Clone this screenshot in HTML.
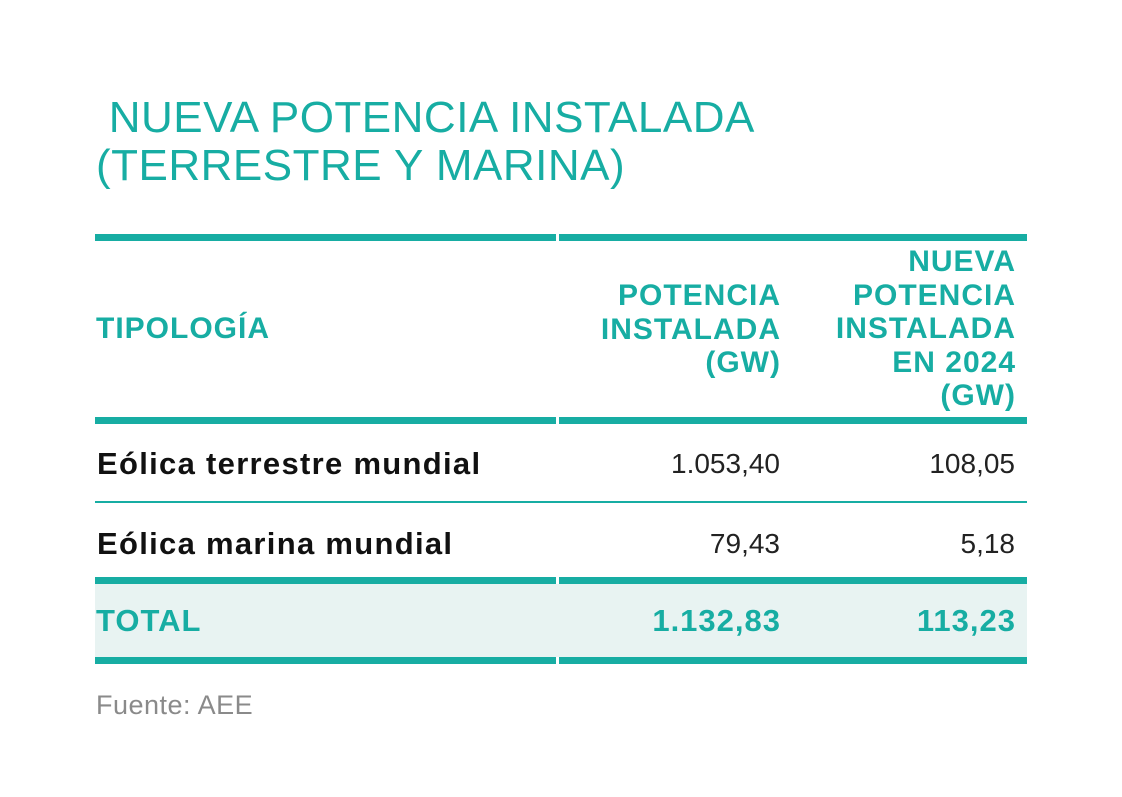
<!DOCTYPE html>
<html><head><meta charset="utf-8">
<style>
html,body{margin:0;padding:0;background:#fff;}
body{width:1122px;height:797px;position:relative;overflow:hidden;font-family:"Liberation Sans",sans-serif;}
.abs{position:absolute;}
.title{left:96px;top:94px;color:#17ada3;font-size:44px;line-height:48px;letter-spacing:0.5px;}
.bar{position:absolute;height:7px;background:#17ada3;}
.thin{position:absolute;height:2px;background:#17ada3;}
.h{color:#17ada3;font-weight:bold;font-size:30px;line-height:33.5px;letter-spacing:1px;}
.r{text-align:right;}
.lbl{font-weight:bold;font-size:31px;color:#111;letter-spacing:1.3px;}
.num{font-size:28px;color:#222;}
.tot{color:#17ada3;font-weight:bold;font-size:31px;letter-spacing:1px;}
</style></head><body>
<div class="abs title">&nbsp;NUEVA POTENCIA INSTALADA<br>(TERRESTRE Y MARINA)</div>

<div class="bar" style="left:95px;width:461px;top:234px"></div>
<div class="bar" style="left:559px;width:468px;top:234px"></div>

<div class="abs h" style="left:96px;top:312px">TIPOLOGÍA</div>
<div class="abs h r" style="left:560px;width:221px;top:279px">POTENCIA<br>INSTALADA<br>(GW)</div>
<div class="abs h r" style="left:800px;width:216px;top:245px">NUEVA<br>POTENCIA<br>INSTALADA<br>EN 2024<br>(GW)</div>

<div class="bar" style="left:95px;width:461px;top:417px"></div>
<div class="bar" style="left:559px;width:468px;top:417px"></div>

<div class="abs lbl" style="left:97px;top:446px">Eólica terrestre mundial</div>
<div class="abs num r" style="left:560px;width:220px;top:448px">1.053,40</div>
<div class="abs num r" style="left:800px;width:215px;top:448px">108,05</div>

<div class="thin" style="left:95px;width:932px;top:501px"></div>

<div class="abs lbl" style="left:97px;top:526px">Eólica marina mundial</div>
<div class="abs num r" style="left:560px;width:220px;top:528px">79,43</div>
<div class="abs num r" style="left:800px;width:215px;top:528px">5,18</div>

<div class="bar" style="left:95px;width:461px;top:577px"></div>
<div class="bar" style="left:559px;width:468px;top:577px"></div>
<div class="abs" style="left:95px;width:932px;top:584px;height:73px;background:#e8f3f2"></div>
<div class="abs tot" style="left:96px;top:603px">TOTAL</div>
<div class="abs tot r" style="left:560px;width:221px;top:603px">1.132,83</div>
<div class="abs tot r" style="left:800px;width:216px;top:603px">113,23</div>
<div class="bar" style="left:95px;width:461px;top:657px"></div>
<div class="bar" style="left:559px;width:468px;top:657px"></div>

<div class="abs" style="left:96px;top:690px;font-size:27px;color:#8a8a8a;letter-spacing:0.5px">Fuente: AEE</div>
</body></html>
